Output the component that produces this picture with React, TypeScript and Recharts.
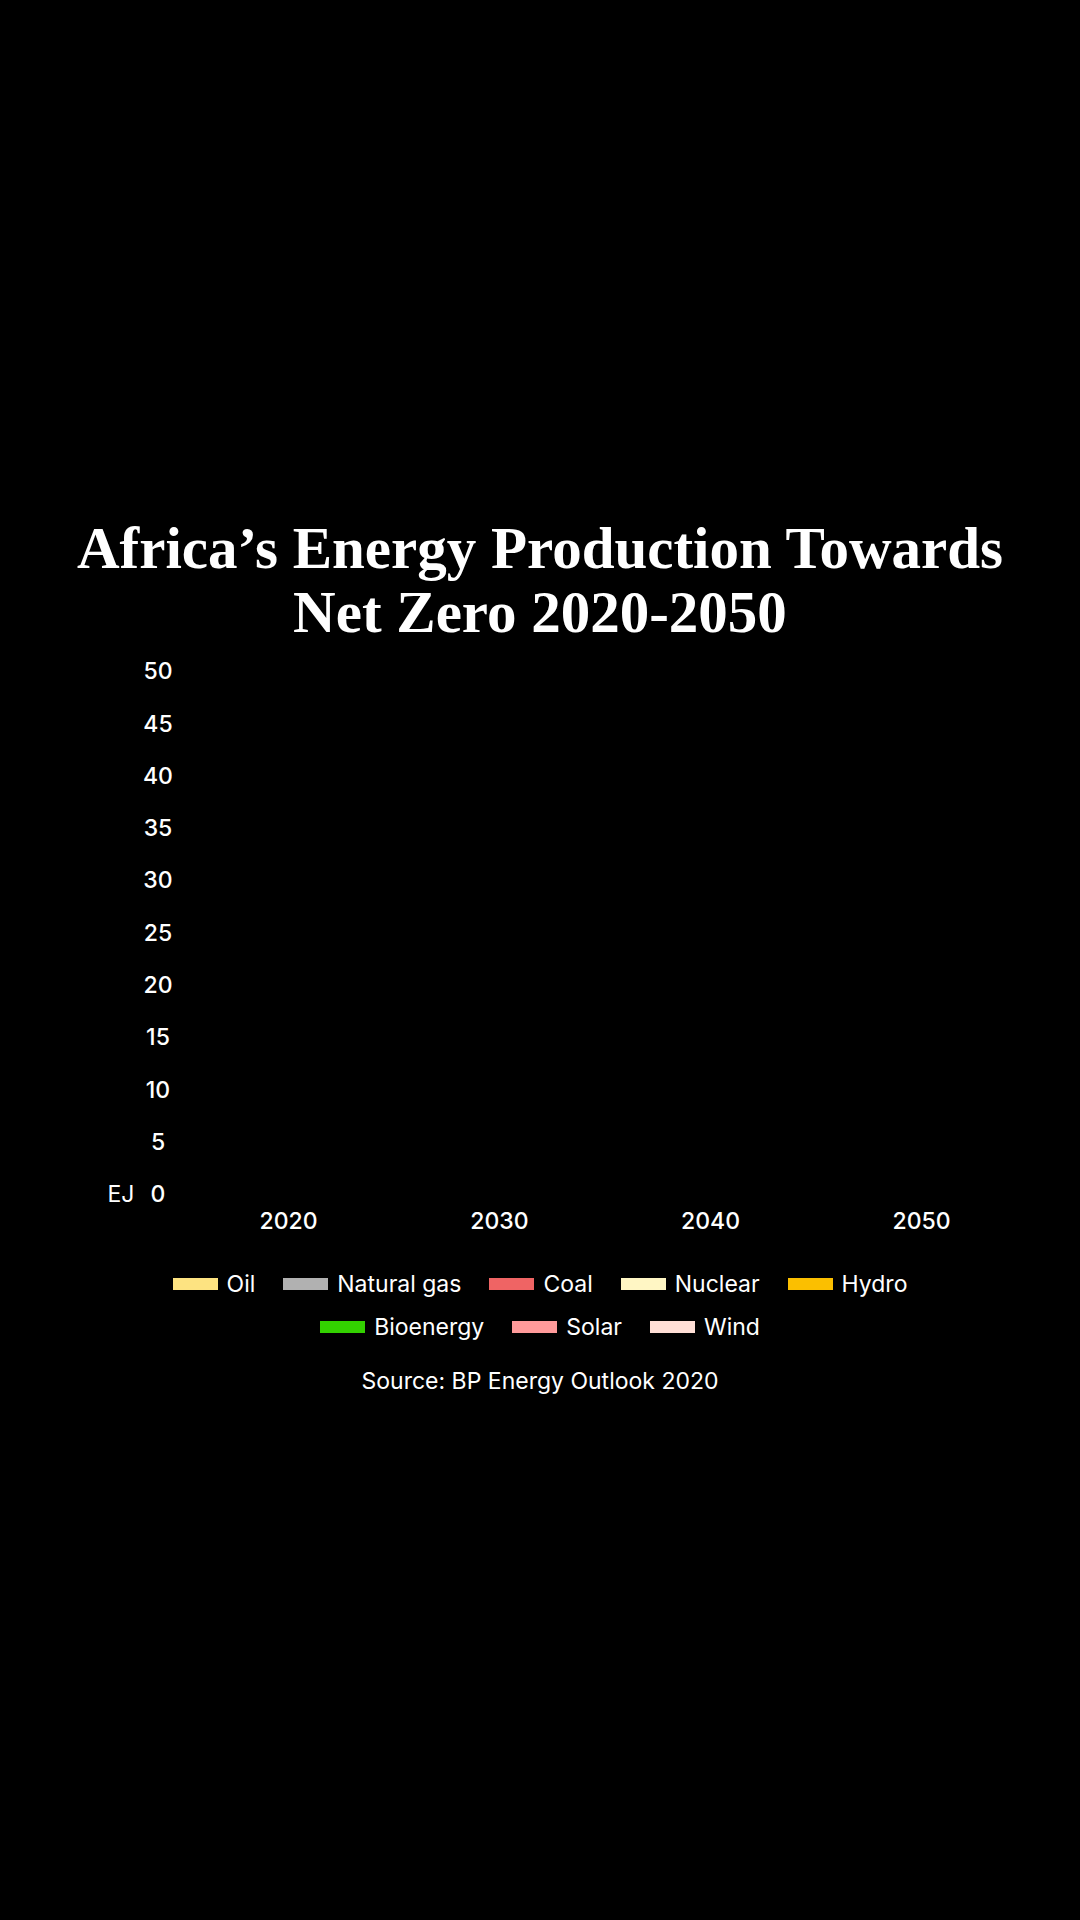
import React from "react"
import { BarChart, Bar, XAxis, YAxis } from "recharts"

// The reference shows the axes and legend but no visible bars, so every series is empty.
const years = ["2020", "2030", "2040", "2050"]
const yTicks = [0, 5, 10, 15, 20, 25, 30, 35, 40, 45, 50]

const seriesNames = ["Oil", "Natural gas", "Coal", "Nuclear", "Hydro", "Bioenergy", "Solar", "Wind"]
const seriesKeys = ["oil", "gas", "coal", "nuclear", "hydro", "bio", "solar", "wind"]
const seriesColors = ["#fde381", "#b1b1b1", "#ef6464", "#fff6c4", "#fbbf00", "#33d100", "#ff9a9a", "#ffdfd6"]

const oil: (number | null)[] = [null, null, null, null]
const gas: (number | null)[] = [null, null, null, null]
const coal: (number | null)[] = [null, null, null, null]
const nuclear: (number | null)[] = [null, null, null, null]
const hydro: (number | null)[] = [null, null, null, null]
const bio: (number | null)[] = [null, null, null, null]
const solar: (number | null)[] = [null, null, null, null]
const wind: (number | null)[] = [null, null, null, null]

const seriesValues = [oil, gas, coal, nuclear, hydro, bio, solar, wind]

const data = years.map((year, i) => {
  const row: Record<string, string | number | null> = { year }
  seriesKeys.forEach((k, s) => {
    row[k] = seriesValues[s][i]
  })
  return row
})

const sans = "Inter, 'Noto Sans', sans-serif"

const YTick = (props: any) => {
  const { x, y, payload } = props
  return (
    <g>
      <text x={x - 17} y={y} dy="0.36em" textAnchor="middle" fill="#fff" fontSize={23} fontWeight={500} fontFamily={sans}>
        {payload.value}
      </text>
      {payload.value === 0 && (
        <text x={x - 54} y={y} dy="0.36em" textAnchor="middle" fill="#fff" fontSize={23} fontWeight={400} fontFamily={sans}>
          EJ
        </text>
      )}
    </g>
  )
}

const XTick = (props: any) => {
  const { x, y, payload } = props
  return (
    <text x={x} y={y + 19} dy="0.36em" textAnchor="middle" fill="#fff" fontSize={23} fontWeight={500} fontFamily={sans}>
      {payload.value}
    </text>
  )
}

const LegendItem = ({ name, color }: { name: string; color: string }) => (
  <div style={{ display: "flex", alignItems: "center", gap: 9 }}>
    <span style={{ display: "inline-block", width: 45, height: 12, background: color }} />
    <span>{name}</span>
  </div>
)

export default function App() {
  const rows = [seriesNames.slice(0, 5), seriesNames.slice(5)]
  return (
    <div style={{ position: "absolute", left: 0, top: 0, width: 1080, height: 1920, background: "#000", overflow: "hidden" }}>
      <div
        style={{
          position: "absolute",
          top: 516,
          left: 0,
          width: 1080,
          textAlign: "center",
          color: "#fff",
          fontFamily: "'Liberation Serif', serif",
          fontWeight: 700,
          fontSize: 59,
          lineHeight: "64px",
        }}
      >
        Africa’s Energy Production Towards
        <br />
        Net Zero 2020-2050
      </div>

      <div style={{ position: "absolute", top: 640, left: 0 }}>
        <BarChart width={1080} height={620} data={data} margin={{ top: 31, right: 53, left: 0, bottom: 26 }}>
          <XAxis dataKey="year" axisLine={false} tickLine={false} height={40} tick={<XTick />} interval={0} />
          <YAxis
            type="number"
            domain={[0, 50]}
            ticks={yTicks}
            width={183}
            axisLine={false}
            tickLine={false}
            tick={<YTick />}
            interval={0}
          />
          {seriesKeys.map((k, i) => (
            <Bar key={k} dataKey={k} name={seriesNames[i]} stackId="a" fill={seriesColors[i]} isAnimationActive={false} />
          ))}
        </BarChart>
      </div>

      <div
        style={{
          position: "absolute",
          top: 1262,
          left: 0,
          width: 1080,
          color: "#fff",
          fontFamily: sans,
          fontSize: 23,
        }}
      >
        {rows.map((row, r) => (
          <div key={r} style={{ display: "flex", justifyContent: "center", gap: 28, height: 43, alignItems: "center" }}>
            {row.map((name) => {
              const idx = seriesNames.indexOf(name)
              return <LegendItem key={name} name={name} color={seriesColors[idx]} />
            })}
          </div>
        ))}
      </div>

      <div
        style={{
          position: "absolute",
          top: 1366,
          left: 0,
          width: 1080,
          textAlign: "center",
          color: "#fff",
          fontFamily: sans,
          fontSize: 23,
          lineHeight: "30px",
        }}
      >
        Source: BP Energy Outlook 2020
      </div>
    </div>
  )
}
